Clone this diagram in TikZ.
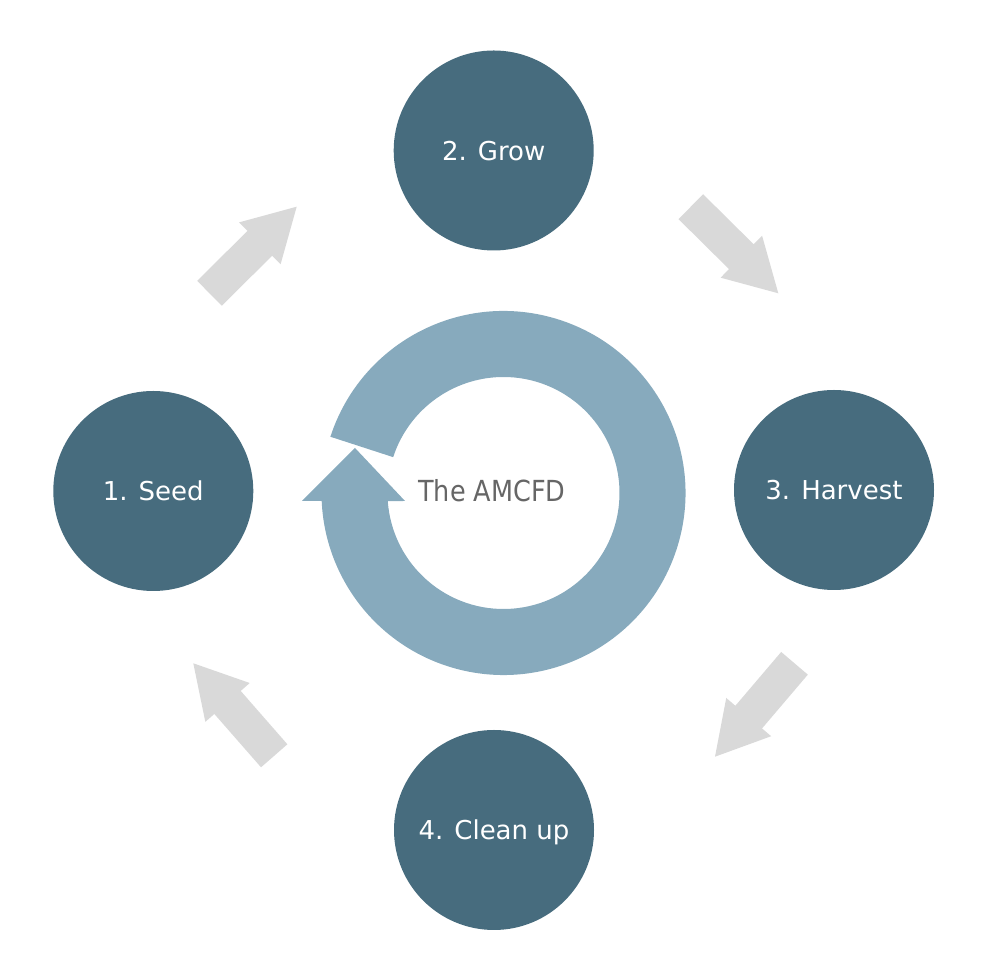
\documentclass[tikz,border=0pt]{standalone}
\usepackage{fontspec}
\setmainfont{DejaVu Sans}
\usetikzlibrary{calc}
\definecolor{stepteal}{HTML}{476C7E}
\definecolor{ringblue}{HTML}{87AABD}
\definecolor{arrowgray}{HTML}{D9D9D9}
\definecolor{centergray}{HTML}{666666}
\newcommand\grayarrow[3]{%
  \coordinate (#3) at ($(#2)!52pt!(#1)$);
  \fill[arrowgray] ($(#1)!17.5pt!90:(#2)$) -- ($(#3)!17.5pt!-90:(#1)$) -- ($(#3)!29.5pt!-90:(#1)$)
    -- (#2) -- ($(#3)!29.5pt!90:(#1)$) -- ($(#3)!17.5pt!90:(#1)$) -- ($(#1)!17.5pt!-90:(#2)$) -- cycle;}
\begin{document}
\begin{tikzpicture}[x=1pt,y=1pt,
  stepcircle/.style={circle, fill=stepteal, minimum size=200pt, inner sep=0pt,
    text=white, font=\fontsize{26}{30}\selectfont, text depth=0pt}]
\useasboundingbox (0,0) rectangle (985,976);
% step circles
\node[stepcircle] (seed) at (153.3,485) {1. Seed};
\node[stepcircle] (grow) at (493.7,825.5) {2. Grow};
\node[stepcircle] (harvest) at (834,486) {3. Harvest};
\node[stepcircle] (clean) at (494,146) {4. Clean up};
% gray arrows
\coordinate (a1s) at (209.5,682.7); \coordinate (a1e) at (296.7,769.3);
\coordinate (a2s) at (690.8,769.3); \coordinate (a2e) at (778.3,682.7);
\coordinate (a3s) at (794.5,312.7); \coordinate (a3e) at (715,219.3);
\coordinate (a4s) at (274.2,220.2); \coordinate (a4e) at (193.3,312.7);
\grayarrow{a1s}{a1e}{a1h}
\grayarrow{a2s}{a2e}{a2h}
\grayarrow{a3s}{a3e}{a3h}
\grayarrow{a4s}{a4e}{a4h}
% central circular arrow
\coordinate (ctr) at (503.5,483);
\coordinate (hl) at (302,475);
\coordinate (htip) at (355,528);
\coordinate (hr) at (405,475);
\fill[ringblue] ($(ctr)+(162:182)$) arc[start angle=162, end angle=-177.5, radius=182]
  -- (hl) -- (htip) -- (hr) -- ($(ctr)+(-176:116)$)
  arc[start angle=-176, end angle=162, radius=116] -- cycle;
\node[anchor=base, text=centergray, font=\fontsize{29}{33}\selectfont, inner sep=0pt]
  (title) at (492,474) {\scalebox{0.88}[1]{The AMCFD}};
\end{tikzpicture}
\end{document}
